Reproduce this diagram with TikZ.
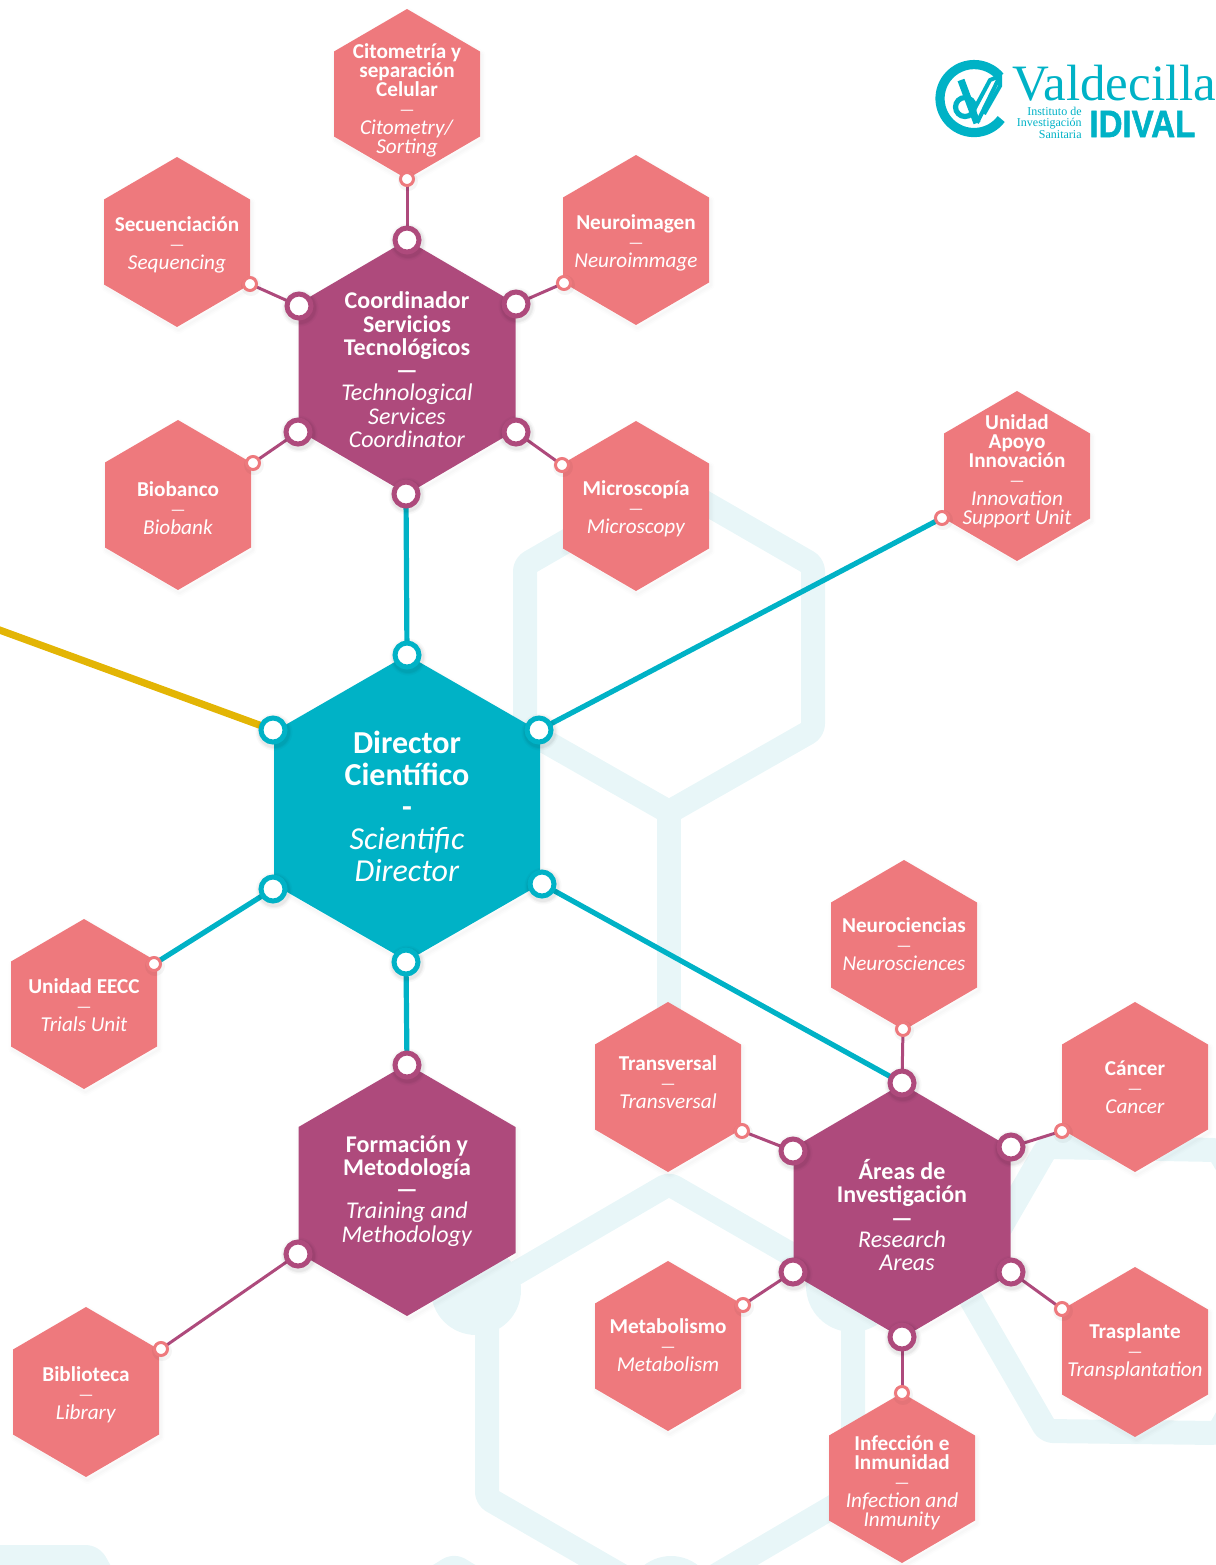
\documentclass[tikz,border=0pt]{standalone}
\usepackage{fontspec}
\usepackage{graphicx}
\setmainfont{Carlito}
\newfontfamily\logoserif{Liberation Serif}
\newfontfamily\logosans[BoldFeatures={FakeBold=1.6}]{Liberation Sans}
\usetikzlibrary{calc}
\definecolor{cpurple}{HTML}{AE4A7C}
\definecolor{cpink}{HTML}{EE797D}
\definecolor{cteal}{HTML}{00B2C6}
\definecolor{cyellow}{HTML}{E3B505}
\definecolor{cpale}{HTML}{E8F6F8}
\pgfdeclarelayer{pale}
\pgfdeclarelayer{wire}
\pgfsetlayers{pale,wire,main}
\tikzset{
  paleband/.style={draw=cpale,line width=12pt,line join=round,rounded corners=3pt},
  txtS/.style={text=white,align=center,inner sep=0pt,font=\fontsize{10.6}{9.5}\selectfont},
  txtL/.style={text=white,align=center,inner sep=0pt,font=\fontsize{12}{11.8}\selectfont},
  txtT/.style={text=white,align=center,inner sep=0pt,font=\fontsize{16}{16}\selectfont},
  portbase/.style={circle,fill=white,inner sep=0pt,outer sep=0pt},
  portP/.style={portbase,draw=cpurple,line width=2.5pt,minimum size=12pt},
  portT/.style={portbase,draw=cteal,line width=2.5pt,minimum size=12pt},
  portS/.style={portbase,draw=cpink,line width=1.5pt,minimum size=6.5pt},
  wireP/.style={draw=cpurple,line width=1.5pt},
  wireT/.style={draw=cteal,line width=2.6pt},
  wireY/.style={draw=cyellow,line width=3.6pt},
}
\newcommand{\hexa}[9]{%
  \begin{scope}[shift={(#2,#3)}]
    \foreach \w/\o in {8/.008,5/.01,2/.012}{
      \draw[black,opacity=\o,line width=\w*0.5pt,line join=round,shift={(1.5,3)}]
        (0,-#5)--(#4,-#5/2)--(#4,#5/2)--(0,#5)--(-#4,#5/2)--(-#4,-#5/2)--cycle;}
    \fill[#6] (0,-#5)--(#4,-#5/2)--(#4,#5/2)--(0,#5)--(-#4,#5/2)--(-#4,-#5/2)--cycle;
  \end{scope}
  \node[#7] (#1) at (#2,#8) {#9};}
\newcommand{\sdash}{{\fontsize{8.5}{9.5}\selectfont—}}
\newcommand{\port}[4]{%
  \foreach \w/\o in {3.5/.025,2/.03,1/.035}{
    \fill[black,opacity=\o] ($(#3,#4)+(1,2)$) circle[radius=15+\w];}
  \node[#1] (#2) at (#3,#4) {};}
\newcommand{\sport}[3]{%
  \fill[black,opacity=.04] ($(#2,#3)+(1,2)$) circle[radius=10];
  \node[portS] (#1) at (#2,#3) {};}
\begin{document}
\begin{tikzpicture}[x=0.5pt,y=-0.5pt]
\useasboundingbox (0,0) rectangle (1216,1565);
\begin{pgfonlayer}{pale}
  % upper pale hexagon and stem
  \draw[paleband] (669,482)--(813,565)--(813,730)--(669,812)--(525,730)--(525,565)--cycle;
  \draw[draw=cpale,line width=12pt] (669,812)--(669,1020);
  % lower pale hexagon
  \draw[paleband] (669,1184)--(853,1290)--(853,1495)--(669,1603)--(487,1498)--(487,1290)--cycle;
  \fill[cpale] (476,1290) circle[radius=45];
  \fill[cpale] (852,1286) circle[radius=46];
  \fill[cpale] (671,1600) circle[radius=44];
  % right pale hexagon
  \draw[paleband] (1047,1147)--(1218,1150)--(1300,1289)--(1218,1433)--(1047,1431)--(965,1289)--cycle;
  % bottom left fragments
  \draw[paleband] (-20,1557)--(92,1557)--(125,1615);
  \draw[paleband] (400,1600)--(454,1566)--(510,1600);
\end{pgfonlayer}

% Main hexagons
\hexa{dir}{407}{808}{133}{153}{cteal}{txtT}{806}{\textbf{Director}\\\textbf{Científico}\\\textbf{-}\\\textit{Scientific}\\\textit{Director}}
\hexa{coord}{407}{367}{108.5}{127}{cpurple}{txtL}{370}{\textbf{Coordinador}\\\textbf{Servicios}\\\textbf{Tecnológicos}\\[-0.6pt]\textbf{—}\\[-0.6pt]\textit{Technological}\\\textit{Services}\\\textit{Coordinator}}
\hexa{form}{407}{1190}{108.5}{126}{cpurple}{txtL}{1191}{\textbf{Formación y}\\\textbf{Metodología}\\[-0.8pt]\textbf{—}\\[-1.2pt]\textit{Training and}\\\textit{Methodology}}
\hexa{areas}{902}{1211}{108.5}{127}{cpurple}{txtL}{1215}{\textbf{Áreas de}\\\textbf{Investigación}\\\textbf{—}\\[-1.4pt]\textit{Research}\\\hspace*{5pt}\textit{Areas}}

% Small hexagons
\hexa{cito}{407}{94}{73}{85}{cpink}{txtS}{100}{\textbf{Citometría y}\\\textbf{separación}\\\textbf{Celular}\\\sdash\\\textit{Citometry/}\\\textit{Sorting}}
\hexa{secu}{177}{242}{73}{85}{cpink}{txtS}{245}{\textbf{Secuenciación}\\\sdash\\\textit{Sequencing}}
\hexa{neuroim}{636}{240}{73}{85}{cpink}{txtS}{243}{\textbf{Neuroimagen}\\\sdash\\\textit{Neuroimmage}}
\hexa{bio}{178}{505}{73}{85}{cpink}{txtS}{508}{\textbf{Biobanco}\\\sdash\\\textit{Biobank}}
\hexa{micro}{636}{506}{73}{85}{cpink}{txtS}{509}{\textbf{Microscopía}\\\sdash\\\textit{Microscopy}}
\hexa{innov}{1017}{476}{73}{85}{cpink}{txtS}{471}{\textbf{Unidad}\\\textbf{Apoyo}\\\textbf{Innovación}\\\sdash\\\textit{Innovation}\\\textit{Support Unit}}
\hexa{eecc}{84}{1004}{73}{85}{cpink}{txtS}{1005}{\textbf{Unidad EECC}\\\sdash\\\textit{Trials Unit}}
\hexa{bibl}{86}{1392}{73}{85}{cpink}{txtS}{1395}{\textbf{Biblioteca}\\\sdash\\\textit{Library}}
\hexa{neuroc}{904}{945}{73}{85}{cpink}{txtS}{944}{\textbf{Neurociencias}\\\sdash\\\textit{Neurosciences}}
\hexa{trans}{668}{1087}{73}{85}{cpink}{txtS}{1082}{\textbf{Transversal}\\\sdash\\\textit{Transversal}}
\hexa{canc}{1135}{1087}{73}{85}{cpink}{txtS}{1087}{\textbf{Cáncer}\\\sdash\\\textit{Cancer}}
\hexa{meta}{668}{1346}{73}{85}{cpink}{txtS}{1345}{\textbf{Metabolismo}\\\sdash\\\textit{Metabolism}}
\hexa{traspl}{1135}{1352}{73}{85}{cpink}{txtS}{1352}{\textbf{Trasplante}\\\sdash\\\textit{Transplantation}}
\hexa{infec}{902}{1478}{73}{85}{cpink}{txtS}{1483}{\textbf{Infección e}\\\textbf{Inmunidad}\\\sdash\\\textit{Infection and}\\\textit{Inmunity}}

% Ports on the teal hexagon
\port{portT}{dT}{407}{655}
\port{portT}{dUL}{273}{730}
\port{portT}{dUR}{539}{730}
\port{portT}{dLL}{273}{889}
\port{portT}{dLR}{542}{884}
\port{portT}{dB}{406}{962}
% Ports on Coordinador
\port{portP}{cT}{407}{240}
\port{portP}{cUL}{299}{306}
\port{portP}{cUR}{516}{304}
\port{portP}{cLL}{298}{432}
\port{portP}{cLR}{516}{432}
\port{portP}{cB}{406}{494}
% Ports on Formacion
\port{portP}{fT}{407}{1065}
\port{portP}{fL}{298}{1254}
% Ports on Areas
\port{portP}{aT}{902}{1083}
\port{portP}{aUL}{793}{1151}
\port{portP}{aUR}{1011}{1147}
\port{portP}{aLL}{793}{1272}
\port{portP}{aLR}{1011}{1272}
\port{portP}{aB}{902}{1337}
% Small ports
\sport{sCito}{407}{179}
\sport{sSecu}{250}{284}
\sport{sNeur}{564}{283}
\sport{sBio}{253}{463}
\sport{sMicr}{562}{465}
\sport{sInno}{942}{518}
\sport{sEecc}{154}{964}
\sport{sBibl}{161}{1349}
\sport{sNeuc}{903}{1029}
\sport{sTran}{742}{1131}
\sport{sCanc}{1062}{1131}
\sport{sMeta}{743}{1305}
\sport{sTras}{1062}{1309}
\sport{sInfe}{902}{1393}
\coordinate (yellowend) at (-6,628);

\begin{pgfonlayer}{wire}
  \path[wireY] (yellowend) -- (dUL);
  \path[wireT] (cB) -- (dT);
  \path[wireT] (dUR) -- (sInno);
  \path[wireT] (dLL) -- (sEecc);
  \path[wireT] (dLR) -- (aT);
  \path[wireT] (dB) -- (fT);
  \path[wireP] (cT) -- (sCito);
  \path[wireP] (cUL) -- (sSecu);
  \path[wireP] (cUR) -- (sNeur);
  \path[wireP] (cLL) -- (sBio);
  \path[wireP] (cLR) -- (sMicr);
  \path[wireP] (fL) -- (sBibl);
  \path[wireP] (aT) -- (sNeuc);
  \path[wireP] (aUL) -- (sTran);
  \path[wireP] (aUR) -- (sCanc);
  \path[wireP] (aLL) -- (sMeta);
  \path[wireP] (aLR) -- (sTras);
  \path[wireP] (aB) -- (sInfe);
\end{pgfonlayer}

% Logo
\draw[cteal,line width=4.6pt] (1001.2,119) arc[start angle=37,end angle=320,radius=34] ;
\draw[cteal,line width=2.6pt] (965,107) circle[radius=9.5];
\draw[cteal,line width=3.6pt] (961,80)--(977,123);
\draw[cteal,line width=2pt] (977,123)--(1000,76);
\draw[cteal,line width=2pt] (984,114)--(1000,86)--(1000,76)--(990,80)--(975,108);
\node[anchor=base west,inner sep=0pt,text=cteal,font=\logoserif\fontsize{25.5}{25.5}\selectfont] (vald) at (1012,100) {Valdecilla};
\node[anchor=north east,inner sep=0pt,align=right,text=cteal,font=\logoserif\fontsize{6}{5.2}\selectfont] (inst) at (1082,107) {Instituto de\\Investigación\\Sanitaria};
\node[anchor=base west,inner sep=0pt,text=cteal,font=\logosans\bfseries\fontsize{19}{19}\selectfont] (idival) at (1089,137) {\scalebox{0.87}[1]{IDIVAL}};
\end{tikzpicture}
\end{document}
